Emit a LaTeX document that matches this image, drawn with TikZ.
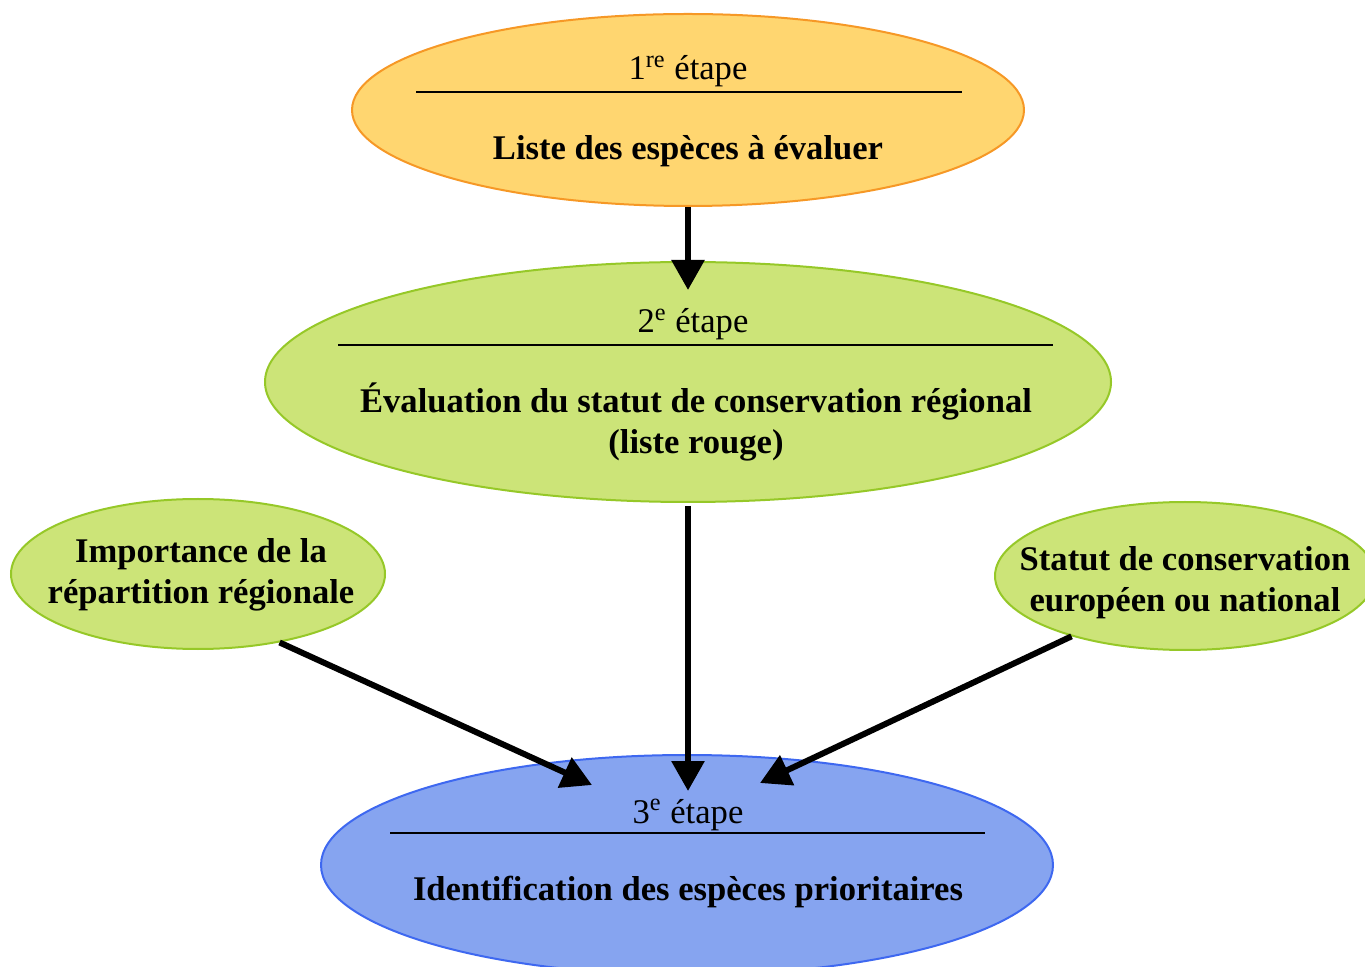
\documentclass[tikz,border=0pt]{standalone}
\usepackage{fontspec}
\setmainfont{Liberation Serif}
\usetikzlibrary{shapes.geometric,arrows.meta}
\definecolor{orangefill}{RGB}{255, 214, 112}
\definecolor{orangeline}{RGB}{246, 152, 38}
\definecolor{greenfill}{RGB}{204, 228, 120}
\definecolor{greenline}{RGB}{150, 200, 40}
\definecolor{bluefill}{RGB}{134, 164, 240}
\definecolor{blueline}{RGB}{62, 104, 240}

\begin{document}
\begin{tikzpicture}[x=0.5pt, y=-0.5pt,
      blob/.style={ellipse, draw, line width=1pt, inner sep=0pt},
      txt/.style={font=\fontsize{17.3}{20.5}\selectfont, align=center, inner sep=0pt},
      bold/.style={txt, font=\fontsize{17.3}{20.5}\selectfont\bfseries},
      rule/.style={line width=0.8pt},
      arrow/.style={-{Triangle[length=15pt, width=16pt]}, line width=3pt}
    ]
      \useasboundingbox (0,0) rectangle (1365,967);

      % 1re étape
      \node[blob, fill=orangefill, draw=orangeline, minimum width=336pt, minimum height=96pt] (step1) at (688,110) {};
      \node[txt, anchor=base] (step1head) at (688,80) {1\textsuperscript{re} étape};
      \draw[rule] (416,92) -- (962,92);
      \node[bold, anchor=base] (step1text) at (688,160) {Liste des espèces à évaluer};

      % 2e étape
      \node[blob, fill=greenfill, draw=greenline, minimum width=423pt, minimum height=120pt] (step2) at (688,382) {};
      \node[txt, anchor=base] (step2head) at (693,333) {2\textsuperscript{e} étape};
      \draw[rule] (338,345) -- (1053,345);
      \node[bold] (step2text) at (696,422) {Évaluation du statut de conservation régional\\(liste rouge)};

      % Critères
      \node[blob, fill=greenfill, draw=greenline, minimum width=187pt, minimum height=75pt] (repart) at (198,574) {};
      \node[bold] (repart text) at (201,575) {Importance de la\\répartition régionale};
      \node[blob, fill=greenfill, draw=greenline, minimum width=190pt, minimum height=74pt] (statut) at (1185,576) {};
      \node[bold] (statut text) at (1185,583) {Statut de conservation\\européen ou national};

      % 3e étape
      \node[blob, fill=bluefill, draw=blueline, minimum width=366pt, minimum height=110pt] (step3) at (687,865) {};
      \node[txt, anchor=base] (step3head) at (688,823) {3\textsuperscript{e} étape};
      \draw[rule] (390,833) -- (985,833);
      \node[bold, anchor=base] (step3text) at (688,900) {Identification des espèces prioritaires};

      % Arrows
      \coordinate (tip2) at (688,290);
      \coordinate (tip3) at (688,791);
      \coordinate (tipleft) at (592,785);
      \coordinate (tipright) at (760,783);
      \draw[arrow] (step1.south) -- (tip2);
      \draw[arrow] ([yshift=-1.5pt]step2.south) -- (tip3);
      \draw[arrow] (repart.-40) -- (tipleft);
      \draw[arrow] (statut.-152) -- (tipright);
    \end{tikzpicture}
\end{document}
